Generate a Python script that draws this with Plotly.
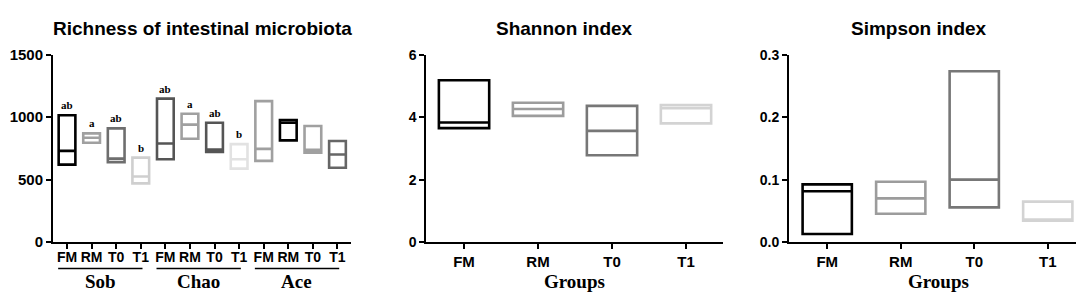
import plotly.graph_objects as go

# ---------------- data ----------------
groups = ["FM", "RM", "T0", "T1"]
richness_metrics = ["Sob", "Chao", "Ace"]

# Richness (floating boxes: min, line, max)
rich_min = [620, 795, 640, 470, 663, 827, 721, 588, 650, 814, 716, 595]
rich_mid = [730, 835, 668, 525, 789, 940, 741, 663, 746, 955, 738, 701]
rich_max = [1015, 870, 910, 676, 1148, 1027, 955, 784, 1128, 977, 929, 809]
rich_colors = ["#000000", "#a0a0a0", "#6e6e6e", "#cfcfcf",
               "#555555", "#a0a0a0", "#555555", "#e2e2e2",
               "#a0a0a0", "#000000", "#a0a0a0", "#666666"]
rich_letters = ["ab", "a", "ab", "b", "ab", "a", "ab", "b", "", "", "", ""]

shannon_min = [3.65, 4.04, 2.78, 3.80]
shannon_mid = [3.83, 4.26, 3.56, 4.29]
shannon_max = [5.18, 4.46, 4.36, 4.39]

simpson_min = [0.013, 0.0455, 0.0557, 0.0344]
simpson_mid = [0.0815, 0.070, 0.100, 0.036]
simpson_max = [0.0925, 0.0966, 0.2736, 0.0648]

idx_colors = ["#000000", "#9c9c9c", "#777777", "#d3d3d3"]

# ---------------- figure ----------------
fig = go.Figure()

def add_boxes(xs, mins, mids, maxs, colors, xa, ya, width):
    for x, lo, md, hi, c in zip(xs, mins, mids, maxs, colors):
        fig.add_trace(go.Box(
            x=[x], q1=[lo], median=[md], q3=[hi],
            lowerfence=[lo], upperfence=[hi],
            width=width, whiskerwidth=0,
            line=dict(color=c, width=2.6),
            fillcolor="rgba(0,0,0,0)",
            xaxis=xa, yaxis=ya, showlegend=False, hoverinfo="skip",
        ))

rich_x = list(range(len(rich_min)))
add_boxes(rich_x, rich_min, rich_mid, rich_max, rich_colors, "x", "y", 0.68)
gx = list(range(len(groups)))
add_boxes(gx, shannon_min, shannon_mid, shannon_max, idx_colors, "x2", "y2", 0.68)
add_boxes(gx, simpson_min, simpson_mid, simpson_max, idx_colors, "x3", "y3", 0.67)

H = 293.0
ydom = [54 / H, 253 / H]
SANS = "Liberation Sans, Arial, sans-serif"
SERIF = "Liberation Serif, Times New Roman, serif"
tickfont = dict(family=SANS, size=14, color="black", weight="bold")
tickfont_big = dict(family=SANS, size=15, color="black", weight="bold")
axis_common = dict(showline=True, linecolor="black", linewidth=2, ticks="outside",
                   ticklen=5, tickwidth=2, tickcolor="black", showgrid=False,
                   zeroline=False)

fig.update_layout(
    width=1084, height=293,
    margin=dict(l=0, r=0, t=0, b=0),
    plot_bgcolor="white", paper_bgcolor="white",
    boxmode="overlay",
    xaxis=dict(domain=[45 / 1084, 343 / 1084], range=[-0.57, 11.55],
               tickvals=rich_x, ticktext=groups * 3, anchor="y",
               tickfont=tickfont, ticklabelstandoff=-4, **axis_common),
    yaxis=dict(domain=ydom, range=[0, 1500], tickvals=[0, 500, 1000, 1500],
               anchor="x", tickfont=tickfont_big, **axis_common),
    xaxis2=dict(domain=[418.3 / 1084, 715 / 1084], range=[-0.51, 3.5],
                tickvals=gx, ticktext=groups, anchor="y2",
                tickfont=tickfont_big, **axis_common),
    yaxis2=dict(domain=ydom, range=[0, 6], tickvals=[0, 2, 4, 6],
                anchor="x2", tickfont=tickfont, **axis_common),
    xaxis3=dict(domain=[781 / 1084, 1078 / 1084], range=[-0.52, 3.52],
                tickvals=gx, ticktext=groups, anchor="y3",
                tickfont=tickfont_big, **axis_common),
    yaxis3=dict(domain=ydom, range=[0, 0.3], tickvals=[0, 0.1, 0.2, 0.3],
                tickformat=".1f", anchor="x3", tickfont=tickfont, **axis_common),
)

title_font = dict(family=SANS, size=19, color="black", weight="bold")
serif_font = dict(family=SERIF, size=19, color="black", weight="bold")

titles = [("Richness of intestinal microbiota", 194), ("Shannon index", 556), ("Simpson index", 911)]
for text, px in titles:
    fig.add_annotation(text=text, x=px / 1084, y=1 - 12 / H,
                       xref="paper", yref="paper", showarrow=False,
                       xanchor="center", yanchor="middle", font=title_font)

for text, px in [("Groups", 566.7), ("Groups", 930)]:
    fig.add_annotation(text=text, x=px / 1084, y=1 - 281 / H,
                       xref="paper", yref="paper", showarrow=False,
                       xanchor="center", yanchor="middle", font=serif_font)

# group labels and underlines for the richness panel
for k, name in enumerate(richness_metrics):
    start = 4 * k
    fig.add_shape(type="line", xref="x", yref="paper",
                  x0=start - 0.36, x1=start + 3.07, y0=1 - 267 / H, y1=1 - 267 / H,
                  line=dict(color="black", width=1.5))
    fig.add_annotation(text=name, x=start + 1.35, y=1 - 281 / H,
                       xref="x", yref="paper", showarrow=False,
                       xanchor="center", yanchor="middle", font=serif_font)

# significance letters
for x, hi, lt in zip(rich_x, rich_max, rich_letters):
    if lt:
        fig.add_annotation(text=lt, x=x, y=hi, xref="x", yref="y",
                           showarrow=False, yanchor="middle", yshift=10,
                           font=dict(family=SERIF, size=11, color="black", weight="bold"))

fig.write_html("out.html")
